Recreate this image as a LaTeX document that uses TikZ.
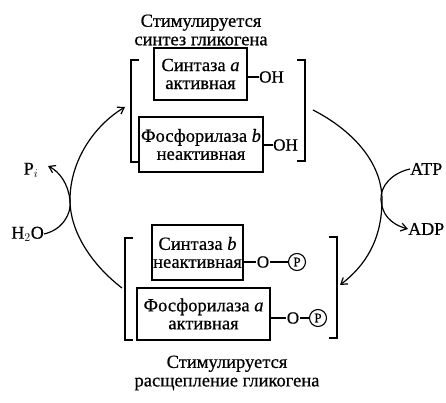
\documentclass[tikz,border=0pt]{standalone}
\usepackage{fontspec}
\setmainfont{Liberation Serif}[FakeBold=0.6]
\usetikzlibrary{arrows.meta}
\begin{document}
\begin{tikzpicture}[x=1pt,y=-1pt,
  enz/.style={draw, line width=1.1pt, inner sep=0pt, align=center, font=\fontsize{18.5}{18}\selectfont},
  ttl/.style={align=center, font=\fontsize{18.5}{18.5}\selectfont},
  lbl/.style={font=\fontsize{18}{18}\selectfont, inner sep=0pt},
  ohl/.style={font=\fontsize{17}{17}\selectfont, inner sep=0pt},
  bond/.style={line width=1.1pt},
  brk/.style={line width=1.5pt},
  arc/.style={line width=1.2pt, -{Straight Barb[length=6pt,width=8pt]}},
  pcirc/.style={draw, circle, line width=1.1pt, inner sep=0.5pt, minimum size=17pt, font=\fontsize{13}{13}\selectfont},
  oatom/.style={inner sep=0.5pt, font=\fontsize{17}{17}\selectfont}]
\useasboundingbox (0,0) rectangle (446,403);

% titles
\node[ttl] (t1) at (201,30) {Стимулируется\\синтез гликогена};
\node[ttl] (t2) at (227,373) {Стимулируется\\расщепление гликогена};

% top group
\node[enz, minimum width=93pt, minimum height=52pt] (b1) at (200.5,74) {Синтаза \textit{a}\\активная};
\node[ohl, anchor=west] (oh1) at (259,77) {OH};
\draw[bond] (b1.east |- oh1.west) -- (oh1.west);
\node[enz, minimum width=124pt, minimum height=55pt] (b2) at (201,144.5) {Фосфорилаза \textit{b}\\неактивная};
\node[ohl, anchor=west] (oh2) at (273,145) {OH};
\draw[bond] (b2.east |- oh2.west) -- (oh2.west);
\draw[brk] (139,60) -- (131,60) -- (131,162) -- (139,162);
\draw[brk] (297,60) -- (305,60) -- (305,161) -- (297,161);

% bottom group
\node[enz, minimum width=91pt, minimum height=55pt] (b3) at (197.5,252.5) {Синтаза \textit{b}\\неактивная};
\node[oatom] (o3) at (263,262) {O};
\node[pcirc] (p3) at (297,262) {P};
\draw[bond] (b3.east |- o3.west) -- (o3.west);
\draw[bond] (o3.east) -- (p3.west);
\node[enz, minimum width=133pt, minimum height=52pt] (b4) at (203.5,314) {Фосфорилаза \textit{a}\\активная};
\node[oatom] (o4) at (293,318) {O};
\node[pcirc] (p4) at (318,318) {P};
\draw[bond] (b4.east |- o4.west) -- (o4.west);
\draw[bond] (o4.east) -- (p4.west);
\draw[brk] (133,238) -- (125,238) -- (125,340) -- (133,340);
\draw[brk] (329,237) -- (337,237) -- (337,338) -- (329,338);

% big arcs
\coordinate (la) at (122,288);
\coordinate (lm) at (70,200);
\coordinate (lb) at (125,107);
\draw[arc] (la) .. controls (92,265) and (70,232) .. (lm) .. controls (70,160) and (95,125) .. (lb);
\coordinate (ra) at (313,110);
\coordinate (rm) at (382,200);
\coordinate (rb) at (340,285);
\draw[arc] (ra) .. controls (352,130) and (382,162) .. (rm) .. controls (382,240) and (365,266) .. (rb);

% small arcs
\node[lbl, anchor=east] (h2o) at (44,234) {H$_2$O};
\node[lbl] (pi) at (31,170) {P$_i$};
\draw[arc] (h2o.east) .. controls (62,230) and (72,214) .. (70,200) .. controls (68,184) and (60,172) .. (48,166);
\node[lbl, anchor=west] (atp) at (410,169) {ATP};
\node[lbl, anchor=west] (adp) at (408,229) {ADP};
\draw[arc] (atp.west) .. controls (392,173) and (380,186) .. (381,200) .. controls (382,214) and (390,224) .. (adp.west);
\end{tikzpicture}
\end{document}
